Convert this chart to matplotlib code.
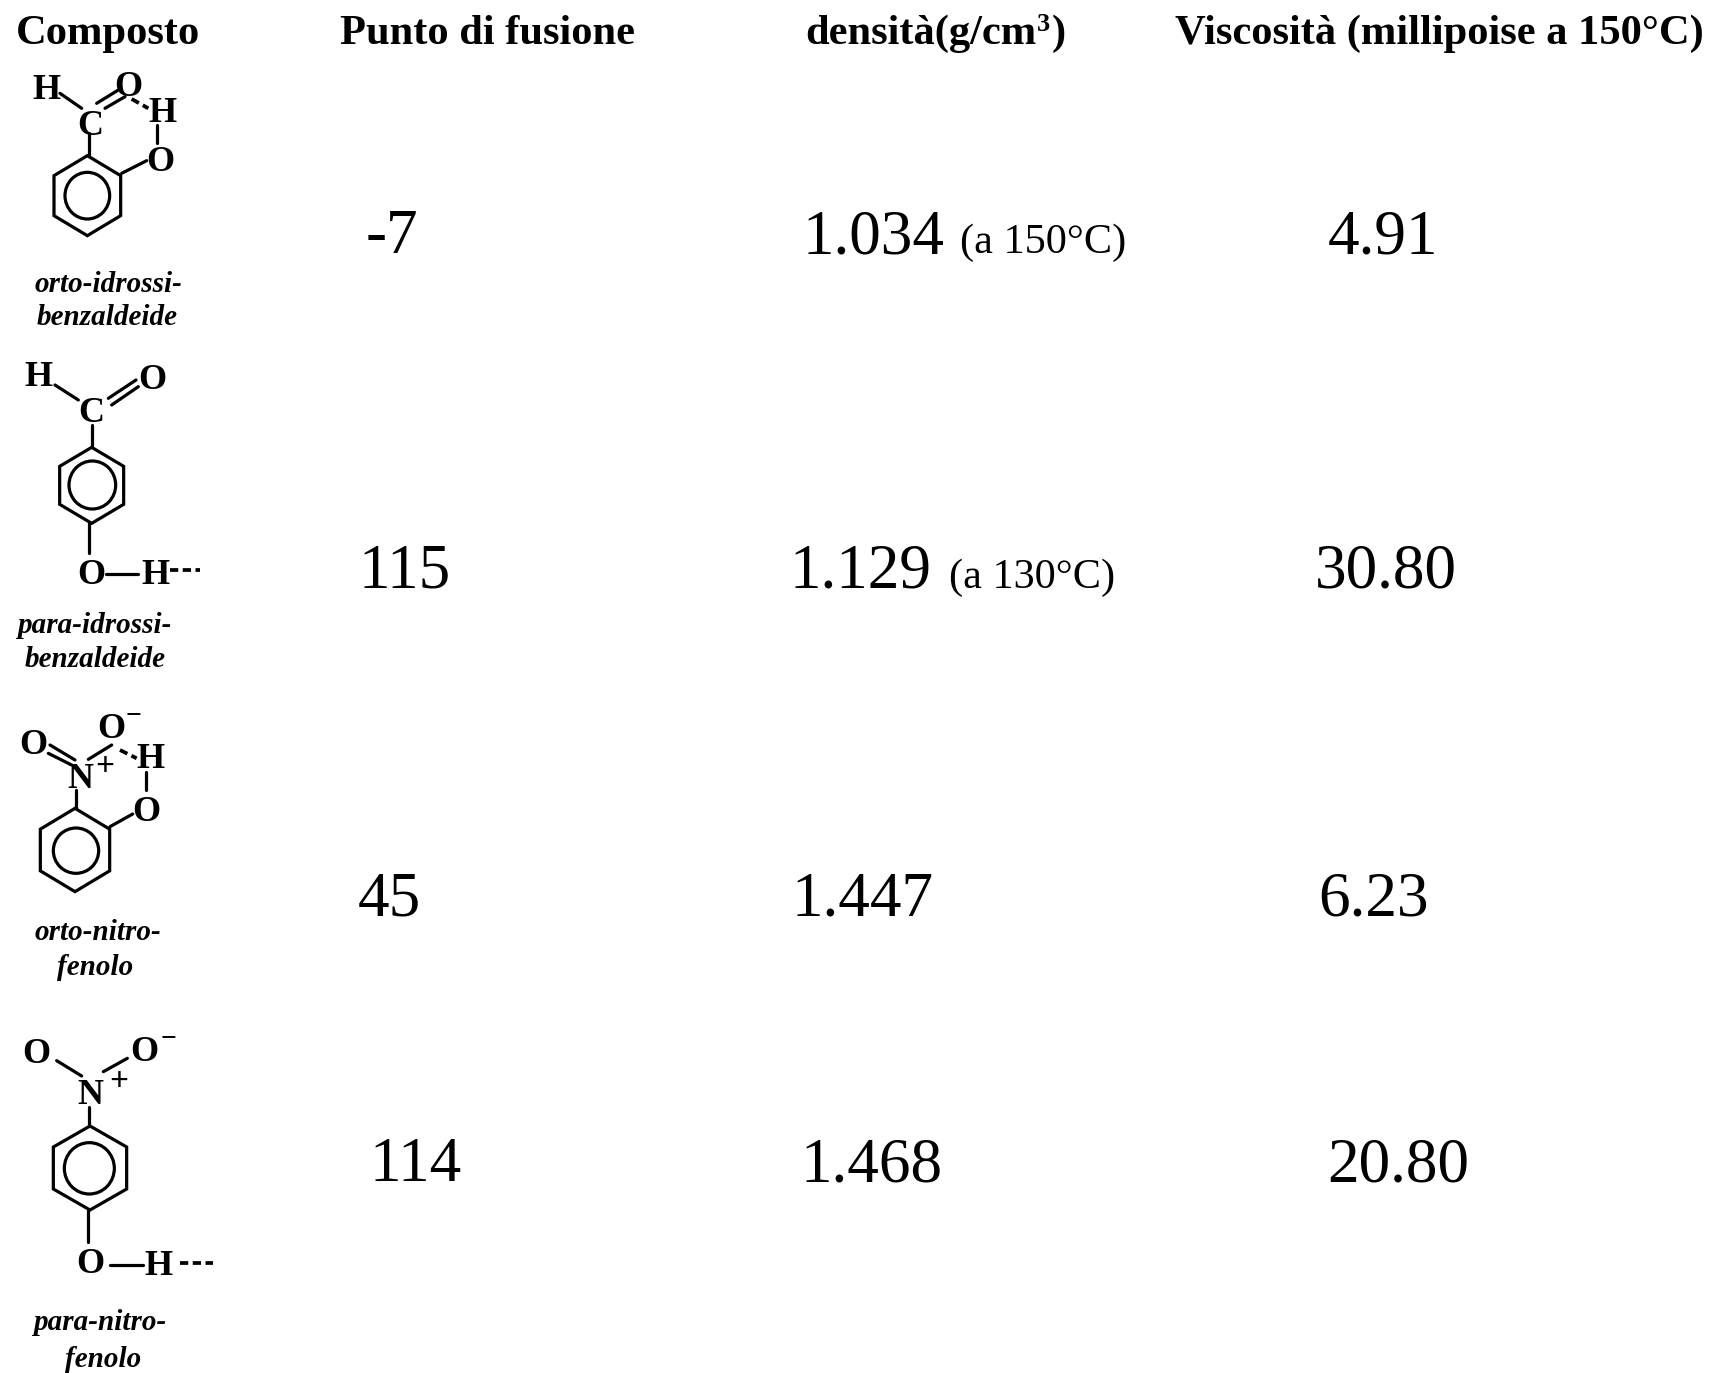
import numpy as np
import matplotlib
matplotlib.use("Agg")
import matplotlib.pyplot as plt
from matplotlib.patches import Polygon, Ellipse

W, H = 1715, 1373
headers = ["Composto", "Punto di fusione", "densità(g/cm", "Viscosità (millipoise a 150°C)"]
header_x = [16, 340, 805, 1175]
melting = ["-7", "115", "45", "114"]
melting_x = [366, 359, 358, 370]
density = ["1.034", "1.129", "1.447", "1.468"]
density_x = [803, 790, 792, 801]
density_note = ["(a 150°C)", "(a 130°C)", "", ""]
note_x = [960, 949, 0, 0]
viscosity = ["4.91", "30.80", "6.23", "20.80"]
viscosity_x = [1328, 1315, 1318, 1327]
row_base = [253, 588, 916, 1181]
names = [["orto-idrossi-", "benzaldeide"], ["para-idrossi-", "benzaldeide"],
         ["orto-nitro-", "fenolo"], ["para-nitro-", "fenolo"]]

# Structure drawings, in 3x crop units: (x, y) relative to each block's origin
origins = [0, 340, 690, 1020]
rings = [(262, 587, 100, 120, 262, 587, 67, 70),
         (275, 436, 96, 114, 277, 435, 70, 72),
         (225, 480, 104, 125, 228, 482, 68, 68),
         (270, 444, 110, 126, 268, 445, 75, 77)]
atoms = [
    [("H", 138, 260), ("O", 385, 252), ("H", 487, 330), ("C", 270, 368), ("O", 480, 475)],
    [("H", 115, 100), ("O", 457, 110), ("C", 275, 208), ("O", 275, 695), ("H", 465, 695)],
    [("O", 100, 155), ("O", 335, 105), ("N", 240, 255), ("H", 450, 197), ("O", 440, 355)],
    [("O", 108, 92), ("O", 432, 85), ("N", 270, 215), ("O", 272, 722), ("H", 475, 728)],
]
marks = [
    [],
    [],
    [("−", 400, 78), ("+", 315, 230)],
    [("−", 505, 55), ("+", 355, 185)],
]
bonds = [
    [(180, 280, 245, 325), (290, 310, 355, 270), (315, 325, 375, 290), (268, 400, 268, 465), (365, 520, 440, 482), (470, 375, 470, 430)],
    [(165, 135, 235, 180), (325, 175, 408, 120), (335, 195, 415, 140), (275, 255, 275, 322), (268, 550, 268, 640), (318, 703, 415, 703)],
    [(150, 165, 225, 210), (145, 190, 215, 225), (265, 208, 335, 165), (228, 300, 228, 355), (330, 410, 398, 372), (438, 245, 438, 300)],
    [(170, 122, 245, 168), (310, 155, 382, 115), (268, 262, 268, 318), (265, 570, 265, 665), (330, 735, 430, 735)],
]
dashes = [
    [(395, 297, 445, 325)],
    [(510, 690, 600, 690)],
    [(360, 180, 410, 205)],
    [(540, 730, 640, 730)],
]
name_pos = [[(105, 875), (110, 975)], [(50, 880), (75, 980)], [(105, 750), (170, 855)], [(100, 930), (195, 1040)]]

fig = plt.figure(figsize=(W / 100, H / 100), dpi=100, facecolor="white")
ax = fig.add_axes([0, 0, 1, 1])
ax.set_xlim(0, W)
ax.set_ylim(H, 0)
ax.axis("off")

SERIF = "Liberation Serif"
head_size = 30.6
header_artists = []
for s, x in zip(headers, header_x):
    header_artists.append(ax.text(x, 44, s, family=SERIF, weight="bold", fontsize=head_size,
                                  ha="left", va="baseline", color="black"))

# The exponent and the closing bracket follow the text of the density header
fig.canvas.draw()
end_x = header_artists[2].get_window_extent().x1
ax.text(end_x + 1, 31, "3", family=SERIF, weight="bold", fontsize=19, ha="left", va="baseline", color="black")
ax.text(end_x + 15, 44, ")", family=SERIF, weight="bold", fontsize=head_size, ha="left", va="baseline", color="black")

for i, y in enumerate(row_base):
    for s, x in ((melting[i], melting_x[i]), (density[i], density_x[i]), (viscosity[i], viscosity_x[i])):
        ax.text(x, y, s, family=SERIF, fontsize=45.5, ha="left", va="baseline", color="black")
    if density_note[i]:
        ax.text(note_x[i], y, density_note[i], family=SERIF, fontsize=30.4, ha="left", va="baseline", color="black")

LW = 2.3
for i, oy in enumerate(origins):
    def P(x, y):
        return x / 3, y / 3 + oy
    cx, cy, rx, ry, ix, iy, irx, iry = rings[i]
    ang = np.deg2rad(np.arange(90, 450, 60))
    pts = [P(cx + rx * np.cos(a) / np.cos(np.pi / 6), cy - ry * np.sin(a)) for a in ang]
    ax.add_patch(Polygon(pts, closed=True, fill=False, ec="black", lw=LW, joinstyle="miter"))
    ax.add_patch(Ellipse(P(ix, iy), 2 * irx / 3, 2 * iry / 3, fill=False, ec="black", lw=LW))
    for x0, y0, x1, y1 in bonds[i]:
        a, b = P(x0, y0), P(x1, y1)
        ax.plot([a[0], b[0]], [a[1], b[1]], color="black", lw=LW, solid_capstyle="round")
    for x0, y0, x1, y1 in dashes[i]:
        a, b = P(x0, y0), P(x1, y1)
        ax.plot([a[0], b[0]], [a[1], b[1]], color="black", lw=LW + 0.4, linestyle=(0, (2.2, 1.2)), dash_capstyle="butt")
    for s, x, y in atoms[i]:
        px, py = P(x, y)
        ax.text(px, py, s, family=SERIF, weight="bold", fontsize=26, ha="center", va="center_baseline", color="black")
    for s, x, y in marks[i]:
        px, py = P(x, y)
        ax.text(px, py, s, family=SERIF, weight="bold", fontsize=24 if s == "+" else 20, ha="center", va="center", color="black")
    for s, (x, y) in zip(names[i], name_pos[i]):
        px, py = P(x, y)
        ax.text(px, py, s, family=SERIF, weight="bold", style="italic", fontsize=21, ha="left", va="baseline", color="black")

fig.savefig("out.png", dpi=100, facecolor="white")
